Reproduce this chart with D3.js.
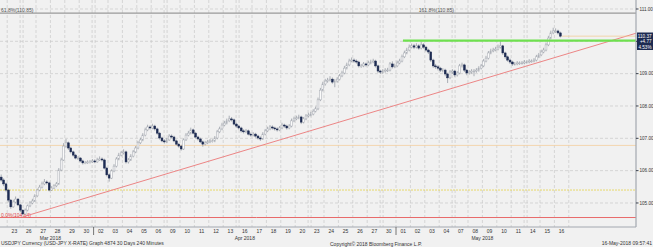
<!DOCTYPE html>
<html>
<head>
<meta charset="utf-8">
<script src="https://cdn.jsdelivr.net/npm/d3@7"></script>
<style>
  html, body { margin: 0; padding: 0; background: #f1f1f1; }
  svg { display: block; font-family: "Liberation Sans", Arial, sans-serif; }
</style>
</head>
<body>
<script>
// trading days shown on the axis
const days = ['2018-03-23', '2018-03-26', '2018-03-27', '2018-03-28', '2018-03-29', '2018-03-30',
  '2018-04-02', '2018-04-03', '2018-04-04', '2018-04-05', '2018-04-06',
  '2018-04-09', '2018-04-10', '2018-04-11', '2018-04-12', '2018-04-13',
  '2018-04-16', '2018-04-17', '2018-04-18', '2018-04-19', '2018-04-20',
  '2018-04-23', '2018-04-24', '2018-04-25', '2018-04-26', '2018-04-27',
  '2018-04-30', '2018-05-01', '2018-05-02', '2018-05-03', '2018-05-04',
  '2018-05-07', '2018-05-08', '2018-05-09', '2018-05-10', '2018-05-11',
  '2018-05-14', '2018-05-15', '2018-05-16']
const barsPerDay = 6
const leadBars = 3 // bars of Mar 22 before the first label

// 240 minute bars, open = previous close
const firstOpen = 105.80
const closes = [105.71, 105.59, 105.40, 105.09, 104.88, 105.03, 105.12, 104.94, 104.78, 104.66,
  104.78, 104.91, 105.00, 105.06, 105.22, 105.40, 105.49, 105.59, 105.65, 105.62,
  105.40, 105.46, 105.53, 105.59, 106.02, 106.33, 106.76, 106.86, 106.70, 106.58,
  106.48, 106.39, 106.39, 106.30, 106.24, 106.24, 106.27, 106.27, 106.30, 106.27,
  106.33, 106.36, 106.33, 106.08, 105.87, 105.77, 105.99, 106.14, 106.36, 106.48,
  106.55, 106.58, 106.27, 106.33, 106.45, 106.58, 106.70, 106.86, 106.95, 107.10,
  107.26, 107.35, 107.32, 107.38, 107.29, 107.16, 107.01, 106.92, 106.89, 106.95,
  107.07, 107.04, 106.92, 106.82, 106.76, 106.67, 106.95, 107.10, 107.16, 107.26,
  107.16, 107.04, 106.98, 106.89, 106.82, 106.86, 106.89, 106.92, 106.92, 107.01,
  107.20, 107.29, 107.41, 107.47, 107.54, 107.60, 107.57, 107.44, 107.38, 107.32,
  107.23, 107.20, 107.23, 107.13, 107.10, 107.13, 107.07, 107.01, 106.98, 107.13,
  107.23, 107.29, 107.35, 107.32, 107.29, 107.26, 107.32, 107.41, 107.38, 107.32,
  107.38, 107.54, 107.60, 107.63, 107.66, 107.50, 107.60, 107.69, 107.72, 107.75,
  107.84, 107.91, 108.19, 108.49, 108.68, 108.77, 108.80, 108.83, 108.74, 108.77,
  108.83, 108.93, 109.02, 109.17, 109.27, 109.39, 109.42, 109.39, 109.36, 109.24,
  109.24, 109.30, 109.27, 109.33, 109.36, 109.39, 109.24, 109.08, 109.05, 109.08,
  109.11, 109.11, 109.30, 109.21, 109.24, 109.33, 109.39, 109.52, 109.64, 109.73,
  109.82, 109.86, 109.82, 109.86, 109.79, 109.89, 109.82, 109.73, 109.67, 109.42,
  109.24, 109.21, 109.17, 109.11, 109.11, 108.99, 108.87, 109.05, 109.08, 108.96,
  109.02, 109.24, 109.27, 109.11, 109.02, 109.05, 109.08, 109.08, 109.11, 109.17,
  109.24, 109.39, 109.48, 109.64, 109.70, 109.73, 109.76, 109.82, 109.86, 109.64,
  109.52, 109.42, 109.36, 109.30, 109.30, 109.33, 109.33, 109.33, 109.36, 109.36,
  109.39, 109.39, 109.42, 109.52, 109.58, 109.67, 109.73, 109.89, 110.10, 110.26,
  110.32, 110.32, 110.26, 110.16]
const highs = [105.88, 105.76, 105.63, 105.44, 105.12, 105.10, 105.20, 105.15, 104.97, 104.80,
  104.83, 104.95, 105.06, 105.13, 105.27, 105.45, 105.56, 105.66, 105.74, 105.70,
  105.66, 105.52, 105.58, 105.65, 106.08, 106.40, 106.85, 106.98, 106.90, 106.74,
  106.62, 106.52, 106.45, 106.42, 106.34, 106.30, 106.32, 106.33, 106.36, 106.35,
  106.40, 106.44, 106.41, 106.37, 106.12, 105.92, 106.04, 106.20, 106.42, 106.55,
  106.61, 106.66, 106.62, 106.39, 106.51, 106.64, 106.76, 106.92, 107.02, 107.16,
  107.33, 107.42, 107.40, 107.45, 107.42, 107.33, 107.20, 107.05, 106.97, 107.01,
  107.13, 107.12, 107.08, 106.96, 106.86, 106.80, 107.00, 107.16, 107.23, 107.33,
  107.30, 107.20, 107.08, 107.02, 106.93, 106.92, 106.95, 106.98, 106.97, 107.07,
  107.26, 107.36, 107.48, 107.54, 107.61, 107.70, 107.66, 107.61, 107.48, 107.42,
  107.36, 107.28, 107.29, 107.27, 107.18, 107.19, 107.17, 107.11, 107.06, 107.19,
  107.29, 107.36, 107.41, 107.40, 107.36, 107.34, 107.38, 107.48, 107.45, 107.42,
  107.44, 107.61, 107.67, 107.70, 107.73, 107.70, 107.66, 107.75, 107.79, 107.82,
  107.90, 107.98, 108.26, 108.56, 108.75, 108.84, 108.87, 108.92, 108.88, 108.83,
  108.89, 108.99, 109.09, 109.24, 109.34, 109.46, 109.50, 109.47, 109.44, 109.40,
  109.30, 109.36, 109.34, 109.40, 109.43, 109.46, 109.43, 109.28, 109.12, 109.14,
  109.17, 109.18, 109.36, 109.38, 109.31, 109.40, 109.46, 109.59, 109.71, 109.80,
  109.90, 109.93, 109.92, 109.94, 109.91, 109.99, 109.94, 109.86, 109.77, 109.70,
  109.46, 109.30, 109.26, 109.21, 109.17, 109.15, 109.03, 109.11, 109.14, 109.12,
  109.08, 109.30, 109.34, 109.31, 109.15, 109.11, 109.14, 109.14, 109.17, 109.23,
  109.30, 109.45, 109.55, 109.70, 109.77, 109.80, 109.83, 109.90, 110.02, 109.89,
  109.68, 109.56, 109.47, 109.40, 109.36, 109.39, 109.38, 109.39, 109.42, 109.41,
  109.45, 109.44, 109.48, 109.58, 109.64, 109.74, 109.80, 109.96, 110.17, 110.33,
  110.42, 110.40, 110.36, 110.30]
const lows = [105.66, 105.52, 105.35, 105.02, 104.82, 104.85, 104.99, 104.90, 104.72, 104.63,
  104.64, 104.74, 104.87, 104.96, 105.03, 105.18, 105.36, 105.45, 105.55, 105.57,
  105.36, 105.37, 105.43, 105.49, 105.56, 105.98, 106.30, 106.71, 106.64, 106.53,
  106.43, 106.35, 106.33, 106.26, 106.19, 106.20, 106.21, 106.22, 106.24, 106.23,
  106.24, 106.30, 106.28, 106.04, 105.82, 105.66, 105.74, 105.95, 106.10, 106.32,
  106.44, 106.50, 106.22, 106.22, 106.30, 106.41, 106.54, 106.66, 106.82, 106.91,
  107.06, 107.22, 107.27, 107.28, 107.24, 107.11, 106.96, 106.88, 106.84, 106.85,
  106.92, 107.00, 106.88, 106.78, 106.71, 106.62, 106.64, 106.92, 107.06, 107.12,
  107.12, 107.00, 106.93, 106.85, 106.74, 106.78, 106.82, 106.85, 106.87, 106.88,
  106.97, 107.16, 107.25, 107.37, 107.43, 107.50, 107.52, 107.40, 107.33, 107.27,
  107.18, 107.15, 107.16, 107.09, 107.05, 107.06, 107.02, 106.96, 106.92, 106.95,
  107.09, 107.19, 107.25, 107.27, 107.24, 107.21, 107.22, 107.28, 107.33, 107.27,
  107.28, 107.34, 107.50, 107.56, 107.59, 107.44, 107.46, 107.56, 107.65, 107.68,
  107.71, 107.80, 107.87, 108.15, 108.45, 108.63, 108.72, 108.76, 108.69, 108.58,
  108.72, 108.79, 108.89, 108.98, 109.13, 109.23, 109.35, 109.34, 109.31, 109.19,
  109.18, 109.20, 109.22, 109.23, 109.29, 109.32, 109.19, 109.02, 108.99, 109.00,
  109.03, 109.05, 109.07, 109.16, 109.17, 109.20, 109.29, 109.35, 109.48, 109.60,
  109.69, 109.78, 109.76, 109.78, 109.74, 109.75, 109.77, 109.68, 109.61, 109.36,
  109.18, 109.15, 109.10, 109.05, 109.04, 108.92, 108.71, 108.83, 108.99, 108.90,
  108.91, 108.98, 109.19, 109.05, 108.95, 108.97, 109.00, 108.92, 109.03, 109.06,
  109.13, 109.20, 109.35, 109.44, 109.60, 109.66, 109.69, 109.72, 109.78, 109.58,
  109.46, 109.37, 109.30, 109.24, 109.25, 109.26, 109.27, 109.28, 109.29, 109.31,
  109.32, 109.34, 109.35, 109.38, 109.48, 109.54, 109.63, 109.69, 109.85, 110.06,
  110.22, 110.26, 110.21, 110.12]

// studies drawn on the chart
const fibTop = 110.87
const fibBase = 104.55
const resistance = 110.02
const supportA = 106.78
const supportB = 105.40
const trendFrom = { bar: 9, price: 104.57 }
const trendTo = { bar: 264.5, price: 110.25 }
const greenFrom = 167.4
const priceTicks = [105, 106, 107, 108, 109, 110, 111]
const lastLabel = ['110.37', '+4.77', '4.53%']

const W = 653
const H = 247
const plotRight = 636
const plotBottom = 227
const totalSlots = 265

const svg = d3.select('body').append('svg').attr('width', W).attr('height', H)
svg.append('rect').attr('width', W).attr('height', H).attr('fill', '#f1f1f1')

const x = d3.scaleLinear().domain([-0.5, totalSlots - 0.5]).range([0, plotRight])
const y = d3.scaleLinear().domain([104.257, 111.278]).range([plotBottom, 0])
const bw = x(1) - x(0)

const parse = d3.timeParse('%Y-%m-%d')
const dayData = days.map((d, k) => ({ date: parse(d), k, first: leadBars + k * barsPerDay }))
dayData.forEach((d, k) => {
  d.gap = k > 0 && (d.date - dayData[k - 1].date) > 1.5 * 864e5
  d.newMonth = k > 0 && d.date.getMonth() !== dayData[k - 1].date.getMonth()
})

const grid = svg.append('g').attr('stroke', '#c9c9c9').attr('stroke-width', 0.7).attr('stroke-dasharray', '3,2')
// horizontal grid
grid.selectAll('line.h').data(priceTicks).join('line')
  .attr('x1', 0).attr('x2', plotRight).attr('y1', d => y(d)).attr('y2', d => y(d))
// vertical grid at day boundaries, doubled over weekends
const vx = []
dayData.forEach(d => {
  const bx = x(d.first - 0.5)
  if (d.gap) { vx.push(bx - 1.5); vx.push(bx + 1.5) } else vx.push(bx)
})
vx.push(x(leadBars + days.length * barsPerDay - 0.5))
grid.selectAll('line.v').data(vx).join('line')
  .attr('x1', d => d).attr('x2', d => d).attr('y1', 0).attr('y2', plotBottom)

// horizontal study lines
svg.append('line').attr('x1', 0).attr('x2', plotRight).attr('y1', y(fibTop)).attr('y2', y(fibTop))
  .attr('stroke', '#9a9a9a').attr('stroke-width', 1.3)
svg.append('line').attr('x1', 0).attr('x2', plotRight).attr('y1', y(supportA)).attr('y2', y(supportA))
  .attr('stroke', '#f4cf9f').attr('stroke-width', 0.8)
svg.append('line').attr('x1', 0).attr('x2', plotRight).attr('y1', y(supportB)).attr('y2', y(supportB))
  .attr('stroke', '#e6d24a').attr('stroke-width', 0.8).attr('stroke-dasharray', '2,1')
svg.append('line').attr('x1', 0).attr('x2', plotRight).attr('y1', y(fibBase)).attr('y2', y(fibBase))
  .attr('stroke', '#e86a6a').attr('stroke-width', 1)

svg.append('text').attr('x', 1).attr('y', y(fibTop) - 1.5).attr('font-size', 5).attr('fill', '#555')
  .text('61.8%(110.85)')
svg.append('text').attr('x', x(174)).attr('y', y(fibTop) - 1.5).attr('font-size', 5).attr('fill', '#555')
  .text('161.8%(110.85)')
svg.append('text').attr('x', 1).attr('y', y(fibBase) - 1).attr('font-size', 5).attr('fill', '#d44')
  .text('0.0%(104.64)')

// candles
const bars = closes.map((c, i) => ({ i, o: i === 0 ? firstOpen : closes[i - 1], c, h: highs[i], l: lows[i] }))
const cg = svg.append('g')
cg.selectAll('line').data(bars).join('line')
  .attr('x1', d => x(d.i)).attr('x2', d => x(d.i))
  .attr('y1', d => y(d.h)).attr('y2', d => y(d.l))
  .attr('stroke', '#8d929c').attr('stroke-width', 0.7)
cg.selectAll('rect').data(bars).join('rect')
  .attr('x', d => x(d.i) - bw * 0.38).attr('width', bw * 0.76)
  .attr('y', d => y(Math.max(d.o, d.c)))
  .attr('height', d => Math.max(0.8, Math.abs(y(d.o) - y(d.c))))
  .attr('fill', d => d.c < d.o ? '#1d2b52' : '#fbfbfb')
  .attr('stroke', d => d.c < d.o ? '#1d2b52' : '#a6aab2').attr('stroke-width', 0.5)

// trend line and resistance
svg.append('line').attr('x1', x(trendFrom.bar)).attr('y1', y(trendFrom.price))
  .attr('x2', x(trendTo.bar)).attr('y2', y(trendTo.price))
  .attr('stroke', '#ec8585').attr('stroke-width', 1)
svg.append('line').attr('x1', x(greenFrom)).attr('x2', plotRight)
  .attr('y1', y(resistance)).attr('y2', y(resistance))
  .attr('stroke', '#6fe04f').attr('stroke-width', 2.2)
const last = bars[bars.length - 1]
svg.append('line').attr('x1', x(last.i) + 1.5).attr('x2', plotRight)
  .attr('y1', y(last.c)).attr('y2', y(last.c))
  .attr('stroke', '#f2c98d').attr('stroke-width', 0.7)

// right price axis
const boxTop = 32.5
const boxH = 17.5
svg.append('line').attr('x1', plotRight).attr('x2', plotRight).attr('y1', 0).attr('y2', plotBottom)
  .attr('stroke', '#a3a8b0').attr('stroke-width', 1.2)
const ra = svg.append('g')
ra.selectAll('line').data(priceTicks).join('line')
  .attr('x1', plotRight).attr('x2', plotRight + 2.5).attr('y1', d => y(d)).attr('y2', d => y(d))
  .attr('stroke', '#3a3f4a').attr('stroke-width', 1)
// the 110.00 label sits under the last price box
ra.selectAll('text').data(priceTicks.filter(d => y(d) < boxTop - 3 || y(d) > boxTop + boxH + 3)).join('text')
  .attr('x', plotRight + 3.5).attr('y', d => y(d) + 1.8)
  .attr('font-size', 4.6).attr('fill', '#333').text(d => d3.format('.2f')(d))

// last price box
svg.append('rect').attr('x', plotRight + 1).attr('y', boxTop).attr('width', W - plotRight - 1).attr('height', boxH)
  .attr('fill', '#1d2b52')
svg.append('g').selectAll('text').data(lastLabel).join('text')
  .attr('x', 651.5).attr('y', (d, k) => boxTop + 5.3 + k * 5.6).attr('text-anchor', 'end')
  .attr('font-size', 4.6).attr('fill', '#fff').text(d => d)

// bottom date axis
svg.append('line').attr('x1', 0).attr('x2', plotRight).attr('y1', plotBottom).attr('y2', plotBottom)
  .attr('stroke', '#a3a8b0').attr('stroke-width', 1)
const fmtDay = d3.timeFormat('%d')
svg.append('g').selectAll('text').data(dayData).join('text')
  .attr('x', d => x(d.first + 2.5)).attr('y', 232.5).attr('text-anchor', 'middle')
  .attr('font-size', 5).attr('fill', '#333').text(d => fmtDay(d.date))
svg.append('g').selectAll('line').data(dayData.filter(d => d.newMonth)).join('line')
  .attr('x1', d => x(d.first - 0.5)).attr('x2', d => x(d.first - 0.5))
  .attr('y1', plotBottom).attr('y2', 235).attr('stroke', '#555').attr('stroke-width', 0.8)
const months = d3.groups(dayData, d => d3.timeFormat('%b %Y')(d.date))
svg.append('g').selectAll('text').data(months).join('text')
  .attr('x', m => x(d3.mean(m[1], d => d.first + 2.5)))
  .attr('y', 239.5).attr('text-anchor', 'middle').attr('font-size', 5).attr('fill', '#333')
  .text(m => m[0])

svg.append('text').attr('x', 1).attr('y', 245).attr('font-size', 5).attr('fill', '#333')
  .text('USDJPY Currency (USD-JPY X-RATE) Graph 4874 30 Days 240 Minutes')
svg.append('text').attr('x', 330).attr('y', 245.5).attr('font-size', 5).attr('fill', '#333')
  .text('Copyright\u00a9 2018 Bloomberg Finance L.P.')
svg.append('text').attr('x', 652).attr('y', 244.5).attr('text-anchor', 'end').attr('font-size', 5).attr('fill', '#333')
  .text('16-May-2018 09:57:41')
</script>
</body>
</html>
